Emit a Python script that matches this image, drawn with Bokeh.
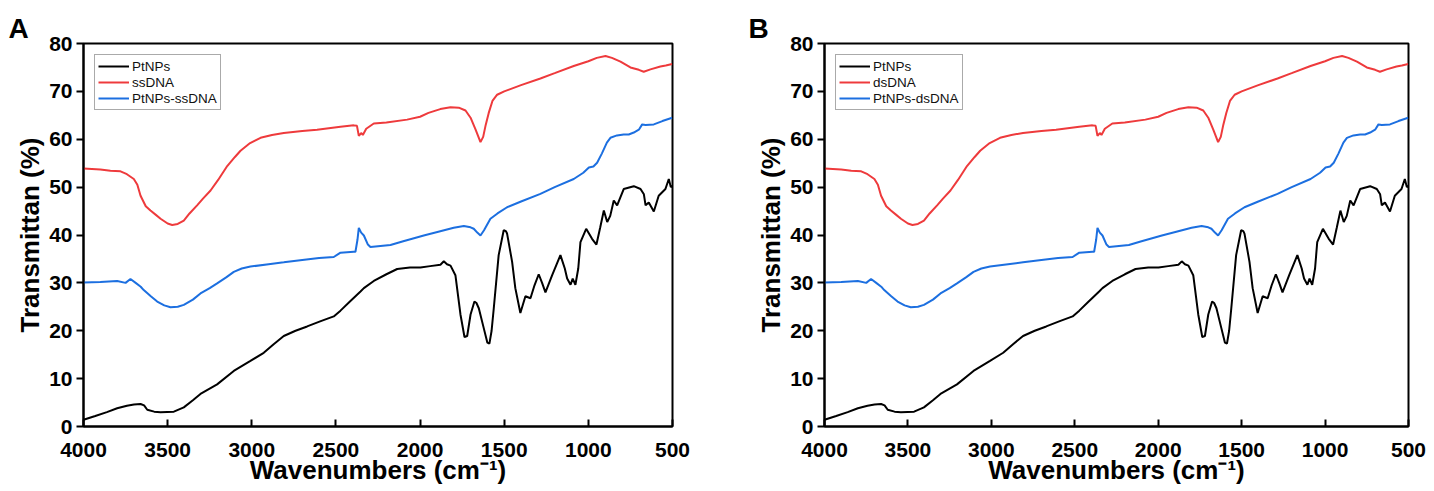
from bokeh.plotting import figure
from bokeh.models import Range1d, FixedTicker, Legend, LegendItem
from bokeh.layouts import row
from bokeh.embed import file_html
from bokeh.resources import INLINE

# ---------------- data ----------------
x_ticks = [4000, 3500, 3000, 2500, 2000, 1500, 1000, 500]
y_ticks = [0, 10, 20, 30, 40, 50, 60, 70, 80]

ptnps_wn = [4000, 3930, 3861, 3800, 3742, 3700, 3661, 3640, 3621, 3580, 3542, 3463, 3404, 3350,
            3305, 3206, 3107, 3008, 2929, 2870, 2810, 2740, 2671, 2590, 2513, 2473, 2420, 2354,
            2334, 2275, 2200, 2136, 2060, 1998, 1940, 1879, 1859, 1840, 1819, 1790, 1760, 1736,
            1720, 1700, 1677, 1665, 1651, 1622, 1600, 1588, 1575, 1562, 1533, 1503, 1490, 1483,
            1453, 1434, 1404, 1374, 1344, 1320, 1295, 1275, 1255, 1215, 1166, 1140, 1126, 1106,
            1093, 1077, 1060, 1047, 1013, 978, 952, 930, 908, 888, 870, 849, 829, 790, 730, 690,
            670, 660, 641, 611, 582, 542, 522, 510, 500]
ptnps_t = [1.4, 2.2, 3.0, 3.8, 4.35, 4.6, 4.7, 4.4, 3.5, 3.1, 3.0, 3.1, 4.0, 5.5,
           6.8, 8.8, 11.6, 13.7, 15.4, 17.2, 18.9, 20.0, 20.9, 22.0, 23.0, 24.2, 26.0, 28.2,
           28.9, 30.4, 31.8, 32.9, 33.2, 33.2, 33.5, 33.8, 34.5, 33.9, 33.6, 31.6, 23.4, 18.7,
           18.9, 23.4, 26.1, 25.8, 24.7, 20.6, 17.5, 17.3, 20.0, 24.7, 35.8, 41.0, 40.8, 40.3,
           34.4, 28.9, 23.7, 27.2, 26.8, 29.5, 31.8, 30.0, 28.0, 31.6, 35.8, 33.0, 30.9, 29.6,
           30.9, 29.6, 33.0, 38.5, 41.3, 39.2, 38.0, 41.5, 45.1, 42.7, 44.0, 47.2, 46.2, 49.6, 50.2, 49.6,
           48.5, 46.2, 46.8, 44.9, 48.2, 49.6, 51.7, 50.0, 50.3]

dna_wn = [4000, 3900, 3840, 3780, 3742, 3701, 3680, 3661, 3630, 3602, 3570, 3542, 3500, 3473,
          3440, 3404, 3370, 3325, 3290, 3245, 3200, 3146, 3100, 3067, 3010, 2948, 2880, 2810,
          2700, 2612, 2473, 2394, 2375, 2364, 2350, 2340, 2320, 2275, 2200, 2077, 2000, 1950,
          1880, 1819, 1770, 1730, 1700, 1670, 1641, 1625, 1610, 1592, 1570, 1542, 1500, 1400,
          1285, 1200, 1087, 1000, 950, 898, 860, 809, 750, 700, 671, 631, 572, 540, 502]
dna_t = [53.9, 53.7, 53.4, 53.3, 52.7, 51.7, 50.5, 48.2, 46.0, 45.1, 44.2, 43.4, 42.4, 42.1,
         42.3, 43.0, 44.5, 46.2, 47.6, 49.3, 51.5, 54.4, 56.3, 57.6, 59.2, 60.3, 60.9, 61.3,
         61.7, 62.0, 62.6, 62.9, 62.8, 60.7, 61.3, 60.9, 62.2, 63.3, 63.5, 64.1, 64.7, 65.5,
         66.3, 66.7, 66.6, 66.0, 64.5, 62.0, 59.4, 60.5, 63.0, 65.5, 68.0, 69.3, 70.0, 71.3,
         72.7, 73.8, 75.3, 76.3, 77.0, 77.4, 77.0, 76.2, 75.0, 74.5, 74.1, 74.6, 75.2, 75.4, 75.7]

complex_wn = [4000, 3900, 3800, 3750, 3721, 3690, 3660, 3642, 3600, 3562, 3520, 3483, 3440, 3404,
              3350, 3305, 3250, 3206, 3150, 3107, 3060, 3008, 2900, 2810, 2700, 2600, 2513, 2473,
              2394, 2384, 2372, 2364, 2350, 2334, 2310, 2295, 2176, 2100, 1978, 1880, 1800, 1740,
              1700, 1681, 1660, 1641, 1620, 1582, 1540, 1483, 1400, 1285, 1200, 1087, 1030, 997,
              970, 948, 920, 890, 869, 830, 790, 760, 730, 700, 680, 660, 611, 560, 502]
complex_t = [30.1, 30.2, 30.4, 30.0, 30.8, 30.0, 29.2, 28.5, 27.2, 26.1, 25.3, 24.9, 25.0, 25.4,
             26.5, 27.8, 28.9, 29.9, 31.2, 32.3, 33.0, 33.4, 33.9, 34.3, 34.8, 35.2, 35.4, 36.3,
             36.5, 36.5, 39.0, 41.5, 40.5, 39.9, 38.0, 37.5, 37.9, 38.7, 39.9, 40.8, 41.5, 41.9,
             41.6, 41.3, 40.5, 39.9, 41.0, 43.4, 44.5, 45.8, 47.0, 48.6, 50.0, 51.7, 53.0, 54.1,
             54.3, 55.1, 57.0, 59.3, 60.3, 60.8, 61.0, 61.0, 61.4, 62.0, 63.1, 63.0, 63.1, 63.8, 64.5]

panel_a_names = ["PtNPs", "ssDNA", "PtNPs-ssDNA"]
panel_b_names = ["PtNPs", "dsDNA", "PtNPs-dsDNA"]
colors = ["#000000", "#EE3A3C", "#1C6FE0"]

FONT = "Liberation Sans"
H = 491


def make_panel(tag, names, width, mb_left, mb_right, mb_top, mb_bottom, tag_offset):
    p = figure(width=width, height=H, x_range=Range1d(4000, 500), y_range=Range1d(0, 80),
               output_backend="svg", toolbar_location=None,
               min_border_left=mb_left, min_border_right=mb_right,
               min_border_top=mb_top, min_border_bottom=mb_bottom)
    p.grid.visible = False
    p.outline_line_color = "black"
    p.outline_line_width = 2
    p.background_fill_color = "white"
    p.border_fill_color = "white"

    p.title.text = tag
    p.title.align = "left"
    p.title.offset = tag_offset
    p.title.standoff = 0
    p.title.text_font = FONT
    p.title.text_font_style = "bold"
    p.title.text_font_size = "28px"
    p.title.text_color = "black"

    series = [(ptnps_wn, ptnps_t), (dna_wn, dna_t), (complex_wn, complex_t)]
    items = []
    for name, (xs, ys), c in zip(names, series, colors):
        r = p.line(xs, ys, line_color=c, line_width=2)
        items.append(LegendItem(label=name, renderers=[r]))

    legend = Legend(items=items, location="top_left", margin=11, padding=3, spacing=0,
                    label_height=16, glyph_height=16, glyph_width=31, label_standoff=3,
                    label_text_font=FONT, label_text_font_size="13.5px",
                    label_text_color="#111111",
                    border_line_color="#555555", border_line_width=1,
                    background_fill_alpha=1.0)
    p.add_layout(legend)

    xa = p.xaxis[0]
    xa.ticker = FixedTicker(ticks=x_ticks)
    xa.minor_tick_line_color = None
    xa.major_tick_in = 7
    xa.major_tick_out = 0
    xa.major_tick_line_width = 2
    xa.axis_line_width = 2
    xa.major_label_text_font = FONT
    xa.major_label_text_font_style = "bold"
    xa.major_label_text_font_size = "21px"
    xa.major_label_text_color = "black"
    xa.major_label_standoff = 16
    xa.axis_label = "Wavenumbers (cm\u207b\u00b9)"
    xa.axis_label_text_font = FONT
    xa.axis_label_text_font_style = "bold"
    xa.axis_label_text_font_size = "26px"
    xa.axis_label_text_color = "black"
    xa.axis_label_standoff = -5

    ya = p.yaxis[0]
    ya.ticker = FixedTicker(ticks=y_ticks)
    ya.minor_tick_line_color = None
    ya.major_tick_in = 0
    ya.major_tick_out = 7
    ya.major_tick_line_width = 2
    ya.axis_line_width = 2
    ya.major_label_text_font = FONT
    ya.major_label_text_font_style = "bold"
    ya.major_label_text_font_size = "21px"
    ya.major_label_text_color = "black"
    ya.major_label_standoff = 4
    ya.axis_label = "Transmittan (%)"
    ya.axis_label_text_font = FONT
    ya.axis_label_text_font_style = "bold"
    ya.axis_label_text_font_size = "26px"
    ya.axis_label_text_color = "black"
    ya.axis_label_standoff = 1
    return p


pa = make_panel("A", panel_a_names, 749, 83, 77, 40, 65, -75)
pb = make_panel("B", panel_b_names, 685, 75, 26, 43, 63, -76)

layout = row(pa, pb)
open("out.html", "w").write(file_html(layout, INLINE))
